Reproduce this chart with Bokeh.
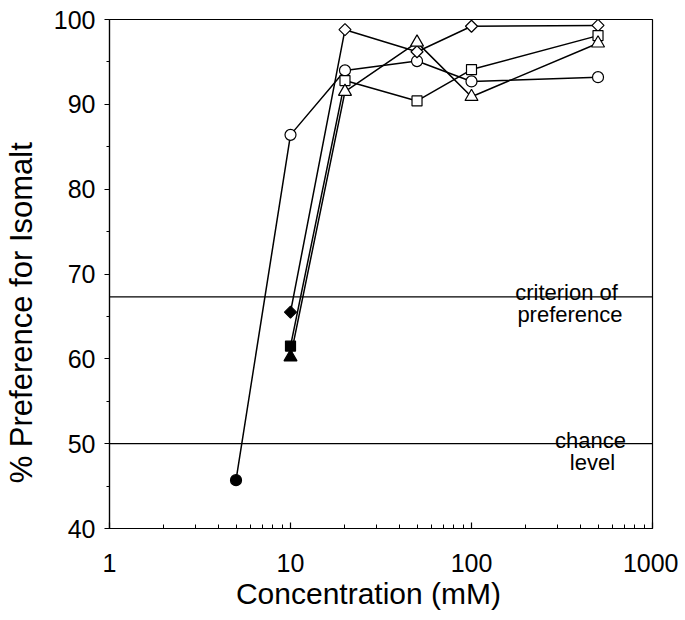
import math
from bokeh.plotting import figure
from bokeh.models import FixedTicker, Span, Label, Range1d
from bokeh.embed import file_html
from bokeh.resources import INLINE

# Data (concentration in mM, % preference)
circ_x = [5, 10, 20, 50, 100, 500]
circ_y = [45.7, 86.4, 94.0, 95.1, 92.7, 93.2]
circ_filled = [True, False, False, False, False, False]

diam_x = [10, 20, 50, 100, 500]
diam_y = [65.5, 98.8, 96.2, 99.2, 99.3]
diam_filled = [True, False, False, False, False]

sq_x = [10, 20, 50, 100, 500]
sq_y = [61.5, 92.8, 90.4, 94.1, 98.1]
sq_filled = [True, False, False, False, False]

tri_x = [10, 20, 50, 100, 500]
tri_y = [60.2, 91.5, 97.3, 90.9, 97.2]
tri_filled = [True, False, False, False, False]

criterion_level = 67.3
chance_level = 50

x_major = [1, 10, 100, 1000]
x_minor = [2, 3, 4, 5, 6, 7, 8, 9, 20, 30, 40, 50, 60, 70, 80, 90,
           200, 300, 400, 500, 600, 700, 800, 900]
y_major = [40, 50, 60, 70, 80, 90, 100]
y_minor = [45, 55, 65, 75, 85, 95]

FONT = "Liberation Sans"
NB = "\u00a0"

p = figure(width=678, height=612, x_axis_type="log",
           x_range=Range1d(1, 1000), y_range=Range1d(40, 100),
           output_backend="svg", toolbar_location=None,
           min_border_left=109, min_border_right=26, min_border_top=19, min_border_bottom=84)
p.grid.visible = False
p.outline_line_color = "black"
p.outline_line_width = 1.2
p.background_fill_color = "white"

p.xaxis.ticker = FixedTicker(ticks=x_major, minor_ticks=x_minor)
p.yaxis.ticker = FixedTicker(ticks=y_major, minor_ticks=y_minor)
p.xaxis.major_label_overrides = {1: "1", 10: "10", 100: "100", 1000: "1000"}
for ax in (p.xaxis, p.yaxis):
    ax.axis_line_width = 1.2
    ax.major_tick_line_width = 1.2
    ax.minor_tick_line_width = 1
    ax.major_label_text_font = FONT
    ax.major_label_text_font_size = "25px"
    ax.major_label_text_color = "black"
    ax.axis_label_text_font = FONT
    ax.axis_label_text_font_style = "normal"
    ax.axis_label_text_color = "black"
p.yaxis.major_tick_out = 5
p.yaxis.major_tick_in = 0
p.yaxis.minor_tick_out = 3
p.yaxis.minor_tick_in = 0
p.xaxis.major_tick_out = 0
p.xaxis.major_tick_in = 6
p.xaxis.minor_tick_out = 0
p.xaxis.minor_tick_in = 4
p.xaxis.major_label_standoff = 25
p.yaxis.major_label_standoff = 9

p.xaxis.axis_label = "Concentration (mM)" + NB * 3
p.xaxis.axis_label_text_font_size = "30px"
p.xaxis.axis_label_standoff = 2
p.yaxis.axis_label = "% Preference for Isomalt" + NB * 9
p.yaxis.axis_label_text_font_size = "31px"
p.yaxis.axis_label_standoff = 12

for lvl in (criterion_level, chance_level):
    p.add_layout(Span(location=lvl, dimension="width", line_color="black", line_width=1.2))

lab_kw = dict(text_font=FONT, text_font_size="22px", text_color="black",
              text_align="center", text_baseline="alphabetic")
p.add_layout(Label(x=335, y=criterion_level, y_offset=4, text="criterion of", **lab_kw))
p.add_layout(Label(x=350, y=criterion_level, y_offset=-18, text="preference", **lab_kw))
p.add_layout(Label(x=454, y=chance_level, y_offset=3, text="chance", **lab_kw))
p.add_layout(Label(x=466, y=chance_level, y_offset=-19, text="level", **lab_kw))

series = [
    (circ_x, circ_y, circ_filled, "circle", 11, 0),
    (diam_x, diam_y, diam_filled, "square", 8.5, math.pi / 4),
    (sq_x, sq_y, sq_filled, "square", 10, 0),
    (tri_x, tri_y, tri_filled, "triangle", 13, 0),
]
for xs, ys, filled, marker, size, ang in series:
    p.line(xs, ys, line_color="black", line_width=1.5)
for xs, ys, filled, marker, size, ang in series:
    fills = ["black" if f else "white" for f in filled]
    p.scatter(x=xs, y=ys, marker=marker, size=size, angle=ang, fill_color=fills,
              line_color="black", line_width=1.2)

open("out.html", "w").write(file_html(p, INLINE))
